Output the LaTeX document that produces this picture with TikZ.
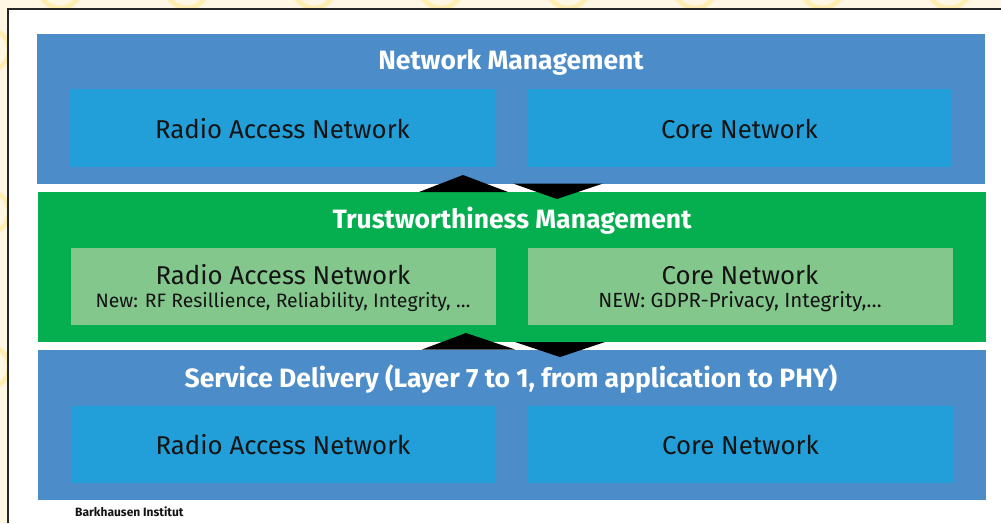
\documentclass[tikz,border=0pt]{standalone}
\usepackage{fontspec}
\setmainfont{Fira Sans}
\newcommand\subtextsize{\fontsize{19.4}{21}\selectfont}
\definecolor{bgyellow}{HTML}{FFF6E3}
\definecolor{ringyellow}{HTML}{FFEEB0}
\definecolor{layerblue}{HTML}{4C8CC8}
\definecolor{innerblue}{HTML}{229FD9}
\definecolor{layergreen}{HTML}{05AF4F}
\definecolor{innergreen}{HTML}{84C78C}
\definecolor{textdark}{HTML}{141414}
\begin{document}
\begin{tikzpicture}[x=1pt,y=-1pt,
  layer/.style={rectangle, inner sep=0pt, minimum width=948pt, minimum height=150pt},
  inner/.style={rectangle, inner sep=0pt, minimum width=425pt, minimum height=78pt,
    text=textdark, font=\fontsize{25.8}{28}\selectfont, align=center},
  label text/.style={inner sep=0pt, text=textdark, font=\fontsize{25.8}{28}\selectfont},
  title/.style={inner sep=0pt, text=white, font=\bfseries\fontsize{26.5}{28}\selectfont},
  updown/.style={fill=black},
  ring/.style={draw=ringyellow, line width=4.5pt}]
\useasboundingbox (0,0) rectangle (1001,523);
% background
\fill[bgyellow] (0,0) rectangle (1001,523);
\begin{scope}
  \clip (0,0) rectangle (1001,9) (0,0) rectangle (8,523);
  \foreach \cx in {60,187,314,441,568,695,822,949}
    \draw[ring] (\cx,-13) circle (21);
  \foreach \cy in {50,212,367}
    \draw[ring] (-12,\cy) circle (21);
\end{scope}
\fill[white] (8,9) rectangle (1001,523);
\draw[line width=1.5pt, black!85] (8,523) -- (8,9) -- (1001,9);
% layers
\node[layer, fill=layerblue] (nm) at (511,109) {};
\node[layer, fill=layergreen] (tm) at (512,267) {};
\node[layer, fill=layerblue] (sd) at (512,425) {};
% inner boxes
\node[inner, fill=innerblue] (nmran) at (282.5,128) {};
\node[inner, fill=innerblue] (nmcn) at (739.5,128) {};
\node[inner, fill=innergreen, minimum height=77pt] (tmran) at (283,286.5) {};
\node[inner, fill=innergreen, minimum height=77pt] (tmcn) at (740,286.5) {};
\node[inner, fill=innerblue, minimum height=77pt] (sdran) at (283,444.5) {};
\node[inner, fill=innerblue, minimum height=77pt] (sdcn) at (740.5,444.5) {};
% inner texts
\node[label text] (t1) at ([yshift=-1pt]nmran.center) {Radio Access Network};
\node[label text] (t2) at ([yshift=-1pt]nmcn.center) {Core Network};
\node[label text] (t3) at ([yshift=11.5pt]tmran.center) {Radio Access Network};
\node[label text, font=\subtextsize] (t4) at ([yshift=-15.5pt]tmran.center) {New: RF Resillience, Reliability, Integrity, \dots};
\node[label text] (t5) at ([yshift=11.5pt]tmcn.center) {Core Network};
\node[label text, font=\fontsize{20.5}{22}\selectfont] (t6) at ([yshift=-15.5pt]tmcn.center) {NEW: GDPR-Privacy, Integrity,\dots};
\node[label text] (t7) at ([yshift=-0.5pt]sdran.center) {Radio Access Network};
\node[label text] (t8) at ([yshift=-0.5pt]sdcn.center) {Core Network};
% titles
\node[title] (nmt) at (511,62) {Network Management};
\node[title] (tmt) at (512,220.5) {Trustworthiness Management};
\node[title] (sdt) at (511,379) {Service Delivery (Layer 7 to 1, from application to PHY)};
% triangles between layers
\fill[updown] (419,192) -- (463,175) -- (508,192) -- cycle;
\fill[updown] (513,183.5) -- (603,183.5) -- (557,199) -- cycle;
\fill[updown] (422,349.5) -- (466,333) -- (515,349.5) -- cycle;
\fill[updown] (515,342) -- (605,342) -- (560,357) -- cycle;
% footer
\node[anchor=west, inner sep=0pt, font=\bfseries\fontsize{12}{13}\selectfont, text=textdark] (foot) at (75,512) {Barkhausen Institut};
\end{tikzpicture}
\end{document}
